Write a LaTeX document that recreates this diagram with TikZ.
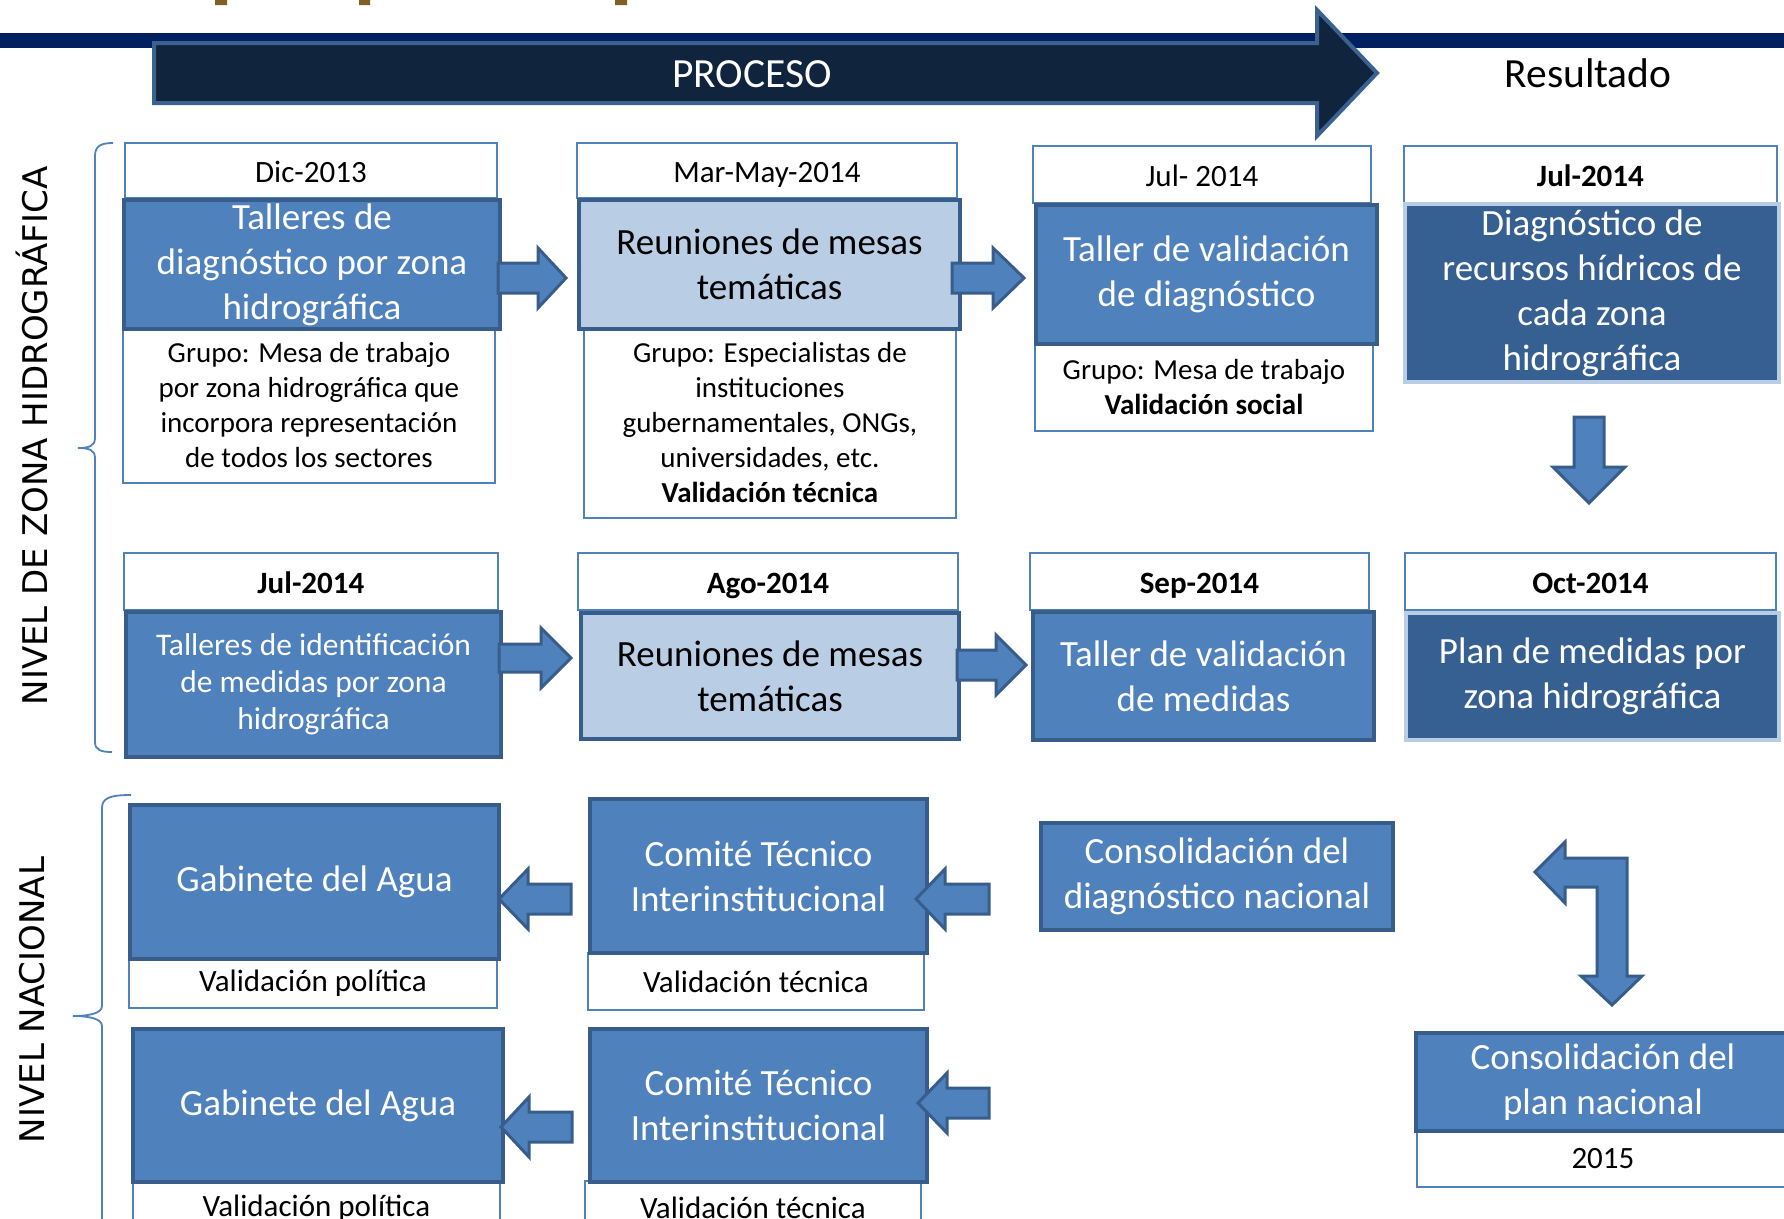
\documentclass[tikz,border=0pt]{standalone}
\usepackage{fontspec}
\setmainfont{Carlito}
\newfontfamily\sidefont{DejaVu Sans}

\definecolor{bandnavy}{HTML}{002060}
\definecolor{arrownavy}{HTML}{10243E}
\definecolor{arrowedge}{HTML}{3B6190}
\definecolor{accblue}{HTML}{4F81BD}
\definecolor{accdark}{HTML}{385D8A}
\definecolor{acclight}{HTML}{B9CDE5}
\definecolor{accdeep}{HTML}{376092}
\definecolor{titlebrown}{HTML}{7F6024}

\tikzset{
  wh/.style 2 args={minimum width=#1pt, minimum height=#2pt},
  framebox/.style={draw=accblue, line width=1.8pt, fill=white, inner sep=0pt, anchor=north west, align=center},
  datebox/.style={framebox, font=\fontsize{31}{37}\selectfont, text height=25pt, text depth=0pt},
  valbox/.style={framebox, font=\fontsize{31}{37}\selectfont},
  groupbox/.style={framebox, font=\fontsize{29}{35}\selectfont},
  stepbox/.style={draw=accdark, line width=4pt, fill=accblue, text=white, inner sep=0pt, anchor=north west, align=center, font=\fontsize{37}{45}\selectfont},
  lightbox/.style={stepbox, fill=acclight, text=black},
  resultbox/.style={stepbox, draw=acclight, fill=accdeep},
  blockarrow/.style={draw=accdark, line width=3pt, fill=accblue, line join=miter},
  bracket/.style={draw=accblue, line width=1.8pt},
  sidetext/.style={rotate=90, font=\sidefont\fontsize{34}{40}\selectfont}
}

% block arrow pointing right: tail centre, length, head length, half shaft
\newcommand{\blockright}[4]{%
  \draw[blockarrow] (#1) ++(0,-#4) -- ++({#2-#3},0) -- ++(0,{#4-30}) -- ++(#3,30) -- ++(-#3,30) -- ++(0,{#4-30}) -- ++({#3-#2},0) -- cycle;}
% block arrow pointing left: tip, length, head length, half shaft
\newcommand{\blockleft}[4]{%
  \draw[blockarrow] (#1) -- ++(#3,-30) -- ++(0,{30-#4}) -- ++({#2-#3},0) -- ++(0,{2*#4}) -- ++({#3-#2},0) -- ++(0,{30-#4}) -- cycle;}

\begin{document}
\begin{tikzpicture}[x=1pt,y=-1pt]
\useasboundingbox (0,0) rectangle (1784,1218);
\clip (0,0) rectangle (1784,1218);

% title remains
\fill[titlebrown] (215,0) rectangle (227,5) (359,0) rectangle (370,5) (615,0) rectangle (627,5);

% band and process arrow
\fill[bandnavy] (0,33) rectangle (1784,48);
\draw[draw=arrowedge, fill=arrownavy, line width=4pt, line join=miter] (154,43) -- (1317,43) -- (1317,10) -- (1377,73) -- (1317,136) -- (1317,103) -- (154,103) -- cycle;
\node[text=white, font=\fontsize{41.5}{48}\selectfont] (proceso) at (752,74) {PROCESO};
\node[font=\fontsize{41.5}{48}\selectfont] (resultado) at (1588,73) {Resultado};

% side labels and brackets
\node[sidetext] (nivelzona) at (32,436) {NIVEL DE ZONA HIDROGRÁFICA};
\node[sidetext] (nivelnac) at (32,1000) {NIVEL NACIONAL};
\draw[bracket] (113,143) .. controls (101,143) and (95,146) .. (95,156) -- (95,438) .. controls (95,446) and (89,448) .. (78,448) .. controls (89,448) and (95,450) .. (95,458) -- (95,742) .. controls (95,750) and (101,752) .. (112,752);
\draw[bracket] (131,795) .. controls (110,795) and (102,798) .. (102,808) -- (102,1006) .. controls (102,1013) and (90,1016) .. (73,1016) .. controls (90,1016) and (102,1019) .. (102,1026) -- (102,1224) .. controls (102,1234) and (110,1237) .. (131,1237);

% row 1: diagnostico
\node[datebox, wh={372}{55}] (dateA) at (124,142) {Dic-2013};
\node[groupbox, wh={372}{155}] (grupoA) at (122,327) {Grupo: Mesa de trabajo\\por zona hidrográfica que\\incorpora representación\\de todos los sectores};
\node[stepbox, wh={376}{129}] (tallA) at (122,198) {Talleres de\\diagnóstico por zona\\hidrográfica};

\node[datebox, wh={380}{55}] (dateB) at (576,142) {Mar-May-2014};
\node[groupbox, wh={372}{190}] (grupoB) at (583,327) {Grupo: Especialistas de\\instituciones\\gubernamentales, ONGs,\\universidades, etc.\\\textbf{Validación técnica}};
\node[lightbox, wh={381}{129}] (reunB) at (577,198) {Reuniones de mesas\\temáticas};

\node[datebox, wh={338}{57}] (dateC) at (1032,145) {Jul- 2014};
\node[groupbox, wh={338}{88}] (grupoC) at (1034,342) {Grupo: Mesa de trabajo\\\textbf{Validación social}};
\node[stepbox, wh={341}{139}] (tallC) at (1034,203) {Taller de validación\\de diagnóstico};

\node[datebox, wh={373}{57}] (dateD) at (1403,145) {\textbf{Jul-2014}};
\node[resultbox, wh={374}{178}] (diagD) at (1403,202) {Diagnóstico de\\recursos hídricos de\\cada zona\\hidrográfica};

% row 2: medidas
\node[datebox, wh={374}{57}] (dateE) at (123,552) {\textbf{Jul-2014}};
\node[stepbox, wh={375}{145}, font=\fontsize{31.5}{37}\selectfont] (tallE) at (124,610) {Talleres de identificación\\de medidas por zona\\hidrográfica};
\node[datebox, wh={380}{57}] (dateF) at (577,552) {\textbf{Ago-2014}};
\node[lightbox, wh={378}{126}] (reunF) at (579,611) {Reuniones de mesas\\temáticas};
\node[datebox, wh={339}{57}] (dateG) at (1029,552) {\textbf{Sep-2014}};
\node[stepbox, wh={341}{128}] (tallG) at (1031,610) {Taller de validación\\de medidas};
\node[datebox, wh={371}{57}] (dateH) at (1404,552) {\textbf{Oct-2014}};
\node[resultbox, wh={373}{127}] (planH) at (1404,611) {Plan de medidas por\\zona hidrográfica};

% national level
\node[valbox, wh={368}{50}] (valI) at (128,957) {Validación política};
\node[stepbox, wh={369}{154}] (gabI) at (128,803) {Gabinete del Agua};
\node[valbox, wh={336}{57}] (valJ) at (587,952) {Validación técnica};
\node[stepbox, wh={337}{154}] (comJ) at (588,797) {Comité Técnico\\Interinstitucional};
\node[valbox, wh={367}{54}] (valK) at (132,1180) {Validación política};
\node[stepbox, wh={370}{153}] (gabK) at (131,1027) {Gabinete del Agua};
\node[valbox, wh={336}{54}] (valL) at (584,1180) {Validación técnica};
\node[stepbox, wh={337}{153}] (comL) at (588,1027) {Comité Técnico\\Interinstitucional};
\node[stepbox, wh={352}{107}] (consM) at (1039,821) {Consolidación del\\diagnóstico nacional};
\node[valbox, wh={372}{57}] (valN) at (1416,1129) {2015};
\node[stepbox, wh={374}{98}] (consN) at (1414,1031) {Consolidación del\\plan nacional};

% block arrows
\coordinate (arrAB) at (498,278);
\coordinate (arrBC) at (952,278);
\coordinate (arrEF) at (499,658);
\coordinate (arrFG) at (957,665);
\blockright{arrAB}{68}{28}{15}
\blockright{arrBC}{72}{31}{15}
\blockright{arrEF}{72}{30}{14}
\blockright{arrFG}{69}{30}{15}

\coordinate (arrJI) at (499,899);
\coordinate (arrMJ) at (916,899);
\coordinate (arrLK) at (501,1127);
\coordinate (arrNL) at (918,1103);
\blockleft{arrJI}{72}{29}{15}
\blockleft{arrMJ}{73}{29}{15}
\blockleft{arrLK}{71}{28}{15}
\blockleft{arrNL}{71}{29}{15}

% down arrow and bent arrow
\draw[blockarrow] (1574,417) -- (1604,417) -- (1604,467) -- (1625,467) -- (1589,503) -- (1553,467) -- (1574,467) -- cycle;
\draw[blockarrow] (1535,872) -- (1565,842) -- (1565,858) -- (1627,858) -- (1627,976) -- (1642,976) -- (1612,1005) -- (1581,976) -- (1597,976) -- (1597,887) -- (1565,887) -- (1565,903) -- cycle;

\end{tikzpicture}
\end{document}
